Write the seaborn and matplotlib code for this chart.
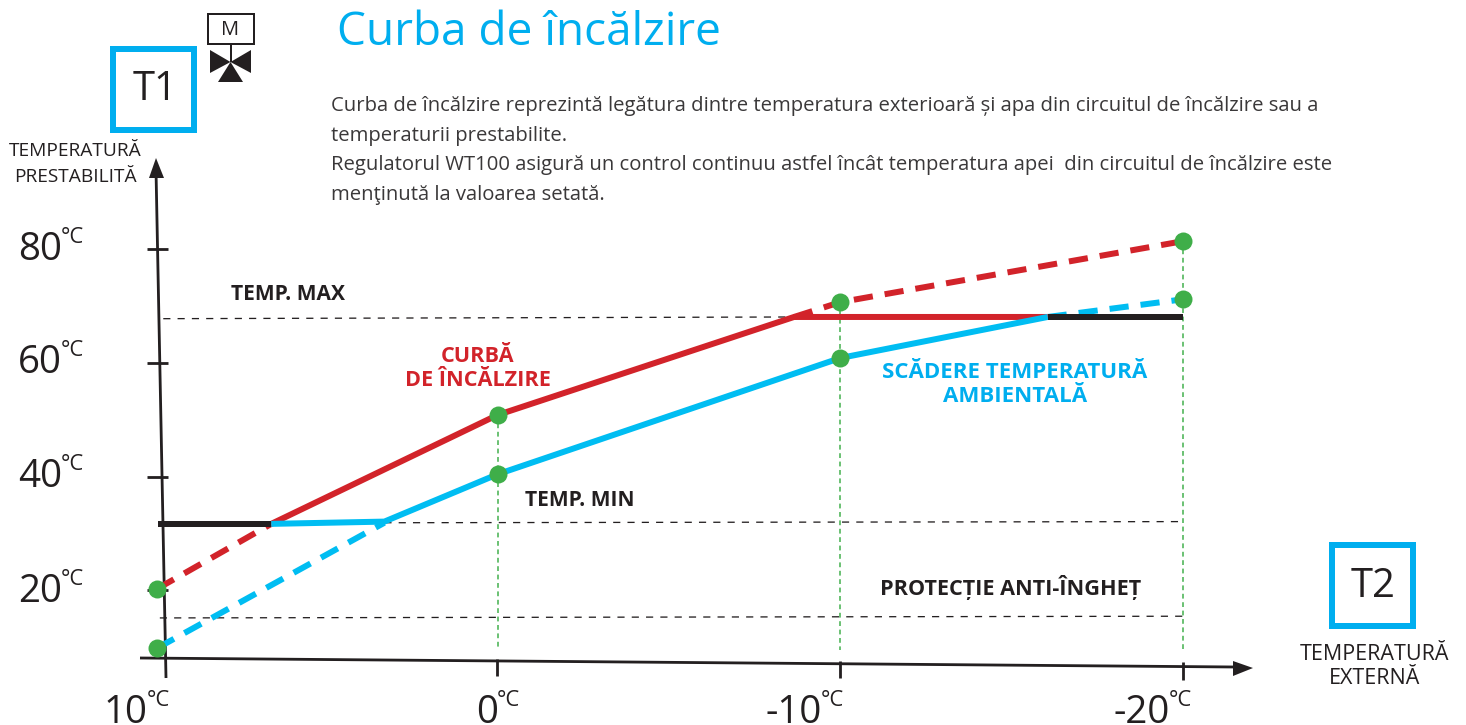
import matplotlib
matplotlib.use("Agg")
import matplotlib.pyplot as plt
from matplotlib.patches import Rectangle, Polygon
from matplotlib.transforms import Affine2D
import seaborn as sns

sns.set_theme(style="white")
plt.rcParams['font.family'] = ['Open Sans', 'Noto Sans', 'DejaVu Sans']

# ---- chart values (outside temperature, set temperature) ----
red_low_x = [9.93, 6.6]
red_low_y = [20.2, 31.6]
red_main_x = [6.6, 0, -8.65, -16.05]
red_main_y = [31.6, 50.7, 67.9, 67.9]
red_high_x = [-8.65, -10, -20]
red_high_y = [67.9, 70.5, 81.2]
blue_low_x = [9.93, 3.3]
blue_low_y = [9.8, 31.8]
blue_main_x = [6.6, 3.3, 0, -10, -16.05]
blue_main_y = [31.6, 32.0, 40.3, 60.7, 67.9]
blue_high_x = [-16.05, -20]
blue_high_y = [67.9, 71.0]
cap_low_x = [9.9, 6.6]
cap_low_y = [31.6, 31.6]
cap_high_x = [-16.05, -20]
cap_high_y = [67.9, 67.9]
tmax_x = [9.75, -8.65]
tmax_y = [67.6, 67.9]
tmin_x = [3.3, -20]
tmin_y = [31.8, 32.0]
frost_x = [9.85, -20]
frost_y = [15.1, 15.4]
drop_x = [0, 0, -10, -10, -20, -20]
drop_top = [50.7, 70.5, 81.2]
drop_bottom = [9.5, 9.5, 9.5]
dot_x = [9.93, 9.93, 0, 0, -10, -10, -20, -20]
dot_y = [20.2, 9.8, 50.7, 40.3, 70.5, 60.7, 81.2, 71.0]

title = "Curba de încălzire"
paragraph = [
    "Curba de încălzire reprezintă legătura dintre temperatura exterioară și apa din circuitul de încălzire sau a",
    "temperaturii prestabilite.",
    "Regulatorul WT100 asigură un control continuu astfel încât temperatura apei  din circuitul de încălzire este",
    "menţinută la valoarea setată.",
]
y_tick_labels = ["80", "60", "40", "20"]
x_tick_labels = ["10", "0", "-10", "-20"]

RED = "#D2232A"
BLUE = "#00BDF2"
BOX = "#00AEEF"
BLACK = "#231F20"
GREEN = "#3FAE49"

W, H = 1466, 725
fig = plt.figure(figsize=(W / 100, H / 100), dpi=100, facecolor="white")
ax = fig.add_axes([0, 0, 1, 1])
ax.set_xlim(497.5 / 34.28, (497.5 - W) / 34.28)
ax.set_ylim(40 + (476 - H) / 5.7, 40 + 476 / 5.7)
ax.axis("off")
px = Affine2D().scale(1, -1).translate(0, H)   # reference pixels to display


def line(x, y, color, width, dash=None, z=3):
    kw = dict(linestyle=(0, dash)) if dash else {}
    sns.lineplot(x=x, y=y, ax=ax, color=color, linewidth=width * 0.72, estimator=None,
                 sort=False, zorder=z, legend=False, errorbar=None,
                 solid_capstyle="butt", dash_capstyle="butt", **kw)


thin = (5.5, 5.5)
line(tmax_x, tmax_y, BLACK, 1.3, thin, 2)
line(tmin_x, tmin_y, BLACK, 1.3, thin, 2)
line(frost_x, frost_y, BLACK, 1.3, thin, 2)
for i in range(3):
    line(drop_x[2 * i:2 * i + 2], [drop_top[i], drop_bottom[i]], GREEN, 1.5, (3.2, 2.4), 2)

thick = (3.2, 2.0)
line(red_low_x, red_low_y, RED, 6, thick)
line(red_high_x, red_high_y, RED, 6, thick)
line(blue_low_x, blue_low_y, BLUE, 6, thick)
line(blue_high_x, blue_high_y, BLUE, 6, thick)
line(red_main_x, red_main_y, RED, 6)
line(blue_main_x, blue_main_y, BLUE, 6, z=4)
line(cap_low_x, cap_low_y, BLACK, 6, z=5)
line(cap_high_x, cap_high_y, BLACK, 6, z=5)
sns.scatterplot(x=dot_x, y=dot_y, ax=ax, color=GREEN, s=(18 * 0.72) ** 2, linewidth=0,
                zorder=6, legend=False)


# ---- hand-drawn looking axes, boxes and notes, placed in reference pixels ----
def seg(x0, y0, x1, y1, width=2.8, color=BLACK):
    ax.plot([x0, x1], [y0, y1], transform=px, color=color, lw=width * 0.72,
            solid_capstyle="butt", zorder=1)


def poly(points, **kw):
    ax.add_patch(Polygon(points, closed=True, transform=px, linewidth=0, **kw))


def txt(x, y, s, size, color=BLACK, weight="normal", ha="center", va="center", **kw):
    ax.text(x, y, s, transform=px, fontsize=size * 0.72, color=color, fontweight=weight,
            ha=ha, va=va, **kw)


seg(156, 170, 166, 678)
seg(140, 658, 1235, 667)
poly([(156, 158), (149, 178), (164, 178)], color=BLACK)
poly([(1253, 668), (1233, 661), (1233, 676)], color=BLACK)
for y in (249, 363, 477):
    seg(147, y, 168, y)
seg(147, 590, 168, 590)
seg(497, 659, 497, 676)
seg(840, 661, 840, 678)
seg(1183, 662, 1183, 680)

for (x0, y0) in ((113, 49), (1332, 545)):
    ax.add_patch(Rectangle((x0, y0), 81, 81, transform=px, fill=False, edgecolor=BOX,
                           linewidth=6 * 0.72, zorder=3))
txt(155, 90, "T1", 40)
txt(1373, 587, "T2", 40)

ax.add_patch(Rectangle((207.5, 14), 46, 30, transform=px, fill=False, edgecolor=BLACK,
                       linewidth=2 * 0.72))
txt(230, 30, "M", 20)
seg(230.5, 44, 230.5, 62, 2)
poly([(230.5, 62), (210, 50), (210, 73)], color=BLACK)
poly([(230.5, 62), (251, 50), (251, 73)], color=BLACK)
poly([(230.5, 62), (218, 82), (243, 82)], color=BLACK)

txt(337, 33, title, 46, BOX, ha="left")
for y, s in zip((106, 136, 165, 195), paragraph):
    txt(331, y, s, 20.3, "#3A3839", ha="left")

txt(75, 151, "TEMPERATURĂ", 19.2)
txt(75, 177, "PRESTABILITĂ", 19.2)
txt(1375, 654, "TEMPERATURĂ", 21.5)
txt(1375, 679, "EXTERNĂ", 21.5)
txt(288, 294, "TEMP. MAX", 21, weight="bold")
txt(580, 500, "TEMP. MIN", 21, weight="bold")
txt(1011, 587, "PROTECȚIE ANTI-ÎNGHEȚ", 21.7, weight="bold")
txt(478, 357, "CURBĂ", 21.7, RED, "bold")
txt(478, 381, "DE ÎNCĂLZIRE", 21.7, RED, "bold")
txt(1015, 372, "SCĂDERE TEMPERATURĂ", 22.3, BOX, "bold")
txt(1015, 397, "AMBIENTALĂ", 22.3, BOX, "bold")

for s, base in zip(y_tick_labels, (260, 373, 487, 602)):
    txt(62, base, s, 38.5, ha="right", va="baseline")
    txt(61, base - 17, "°C", 22, ha="left", va="baseline")
for s, right in zip(x_tick_labels, (148, 498, 822, 1170)):
    txt(right, 723, s, 38.5, ha="right", va="baseline")
    txt(right - 1, 706, "°C", 22, ha="left", va="baseline")

fig.savefig("out.png", dpi=100, facecolor="white")
